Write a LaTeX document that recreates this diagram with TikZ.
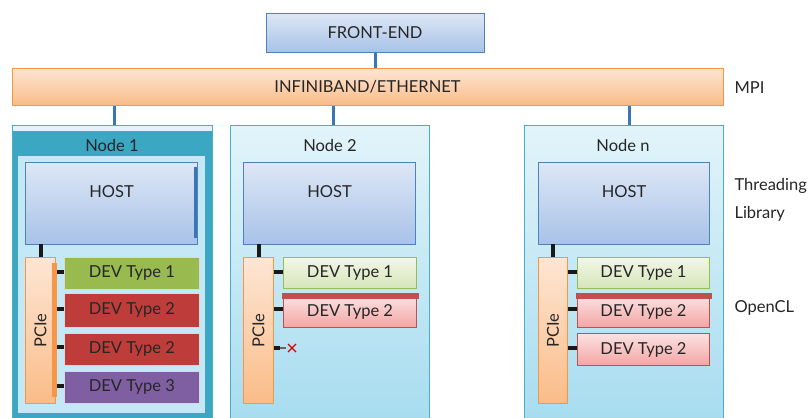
\documentclass[tikz,border=0pt]{standalone}
\usepackage{fontspec}
\usetikzlibrary{calc}
\setmainfont{Lato}
\definecolor{feTop}{HTML}{DDE7F5}
\definecolor{feBot}{HTML}{A8C2E8}
\definecolor{feLine}{HTML}{4F81BD}
\definecolor{orTop}{HTML}{FDE6D4}
\definecolor{orBot}{HTML}{FABC88}
\definecolor{orLine}{HTML}{F79646}
\definecolor{nodeTop}{HTML}{E2F4FA}
\definecolor{nodeBot}{HTML}{A6DCEF}
\definecolor{nodeLine}{HTML}{4BACC6}
\definecolor{teal}{HTML}{3CA7C3}
\definecolor{innerBlue}{HTML}{C4E8F5}
\definecolor{gTop}{HTML}{F1F7E6}
\definecolor{gBot}{HTML}{D6E5BA}
\definecolor{gLine}{HTML}{9BBB59}
\definecolor{rTop}{HTML}{FBE2E2}
\definecolor{rBot}{HTML}{F3A5A4}
\definecolor{rLine}{HTML}{C0504D}
\definecolor{rDark}{HTML}{BE3D3A}
\definecolor{gDark}{HTML}{98BA4E}
\definecolor{pDark}{HTML}{7F5FA2}
\definecolor{linkBlue}{HTML}{3A75B8}
\definecolor{txt}{HTML}{262626}
\tikzset{
  lbl/.style={font=\fontsize{16.5}{18}\selectfont, text=txt},
  bluebox/.style={draw=feLine, line width=1pt, top color=feTop, bottom color=feBot},
  orbox/.style={draw=orLine, line width=1pt, top color=orTop, bottom color=orBot},
  nodebox/.style={draw=nodeLine, line width=1pt, top color=nodeTop, bottom color=nodeBot},
  gbox/.style={draw=gLine, line width=1pt, top color=gTop, bottom color=gBot},
  rbox/.style={draw=rLine, line width=1pt, top color=rTop, bottom color=rBot},
  solidbox/.style={draw=white!85!black, line width=0.6pt, fill=#1},
  blink/.style={draw=linkBlue, line width=3pt},
  klink/.style={draw=black!90, line width=3.5pt},
}
\begin{document}
\begin{tikzpicture}[x=1pt,y=-1pt]
\useasboundingbox (0,0) rectangle (812,418);
\clip (0,0) rectangle (812,418);
\fill[white] (0,0) rectangle (812,418);

% front end and network
\node[bluebox, minimum width=218, minimum height=39, lbl] (fe) at (375,32.5) {FRONT-END};
\node[orbox, minimum width=711, minimum height=37, lbl] (ib) at (367.5,86.5) {INFINIBAND/ETHERNET};
\node[lbl, anchor=west] (mpi) at (731,88) {MPI};

% node frames
\path[fill=teal, draw=nodeLine, line width=1pt] (12,125) rectangle (212,425);
\fill[nodeTop] (12.5,126) rectangle (211.5,131);
\fill[innerBlue] (18,156) rectangle (205,413);
\node[lbl] (n1) at (112,145) {Node 1};
\coordinate (n1top) at (114,125);

\path[nodebox] (230,125) rectangle (429,425);
\node[lbl] (n2) at (330,145) {Node 2};
\coordinate (n2top) at (333,125);

\path[nodebox] (524,125) rectangle (723,425);
\node[lbl] (nn) at (623,145) {Node n};
\coordinate (nntop) at (629,125);

% network links
\draw[blink] (fe.south) -- (fe.south |- ib.north);
\draw[blink] (n1top |- ib.south) -- (n1top);
\draw[blink] (n2top |- ib.south) -- (n2top);
\draw[blink] (nntop |- ib.south) -- (nntop);

% side labels
\node[lbl, anchor=west] (thr) at (731,186) {Threading};
\node[lbl, anchor=west] (lib) at (731,214) {Library};
\node[lbl, anchor=west] (ocl) at (731,308) {OpenCL};

% ---------- Node 1 ----------
\node[bluebox, minimum width=172, minimum height=82, anchor=north west] (h1) at (25,162) {};
\node[lbl] at (h1.center |- 0,192) {HOST};
\fill[linkBlue] (193.5,167) rectangle (197,238);
\node[orbox, minimum width=30, minimum height=146, anchor=north west] (p1) at (25,257) {};
\node[lbl, rotate=90] at (p1.center) {PCIe};
\fill[orLine] (52,263) rectangle (57,397);
\draw[klink] (41,244) -- (41,257);
\node[solidbox=gDark, minimum width=135, minimum height=32, anchor=north west, lbl] (d11) at (64,257) {DEV Type 1};
\node[solidbox=rDark, minimum width=135, minimum height=34, anchor=north west, lbl] (d12) at (64,293) {DEV Type 2};
\node[solidbox=rDark, minimum width=135, minimum height=32, anchor=north west, lbl] (d13) at (64,333) {DEV Type 2};
\node[solidbox=pDark, minimum width=135, minimum height=32, anchor=north west, lbl] (d14) at (64,371) {DEV Type 3};
\draw[klink] (57,272) -- (d11.west |- 0,272);
\draw[klink] (57,309) -- (d12.west |- 0,309);
\draw[klink] (57,347) -- (d13.west |- 0,347);
\draw[klink] (57,386) -- (d14.west |- 0,386);

% ---------- Node 2 ----------
\node[bluebox, minimum width=172, minimum height=82, anchor=north west] (h2) at (243,162) {};
\node[lbl] at (h2.center |- 0,192) {HOST};
\node[orbox, minimum width=30, minimum height=146, anchor=north west] (p2) at (243,257) {};
\node[lbl, rotate=90] at (p2.center) {PCIe};
\draw[klink] (259,244) -- (259,257);
\node[gbox, minimum width=133, minimum height=31, anchor=north west, lbl] (d21) at (283,257) {DEV Type 1};
\node[rbox, minimum width=133, minimum height=32, anchor=north west, lbl] (d22) at (283,295) {DEV Type 2};
\fill[rLine] (282,293) rectangle (419,298.5);
\draw[klink] (p2.east |- 0,272) -- (d21.west |- 0,272);
\draw[klink] (p2.east |- 0,309) -- (d22.west |- 0,309);
\coordinate (x2) at (292,348);
\draw[klink] (p2.east |- 0,348) -- (280,348);
\draw[draw=black!60, line width=1.5pt] (280,348) -- (286,348);
\draw[red!85!black, line width=1.2pt] ($(x2)+(-4,-4)$) -- ($(x2)+(4,4)$) ($(x2)+(-4,4)$) -- ($(x2)+(4,-4)$);

% ---------- Node n ----------
\node[bluebox, minimum width=171, minimum height=82, anchor=north west] (h3) at (538,162) {};
\node[lbl] at (h3.center |- 0,192) {HOST};
\node[orbox, minimum width=29, minimum height=146, anchor=north west] (p3) at (538,257) {};
\node[lbl, rotate=90] at (p3.center) {PCIe};
\draw[klink] (553,244) -- (553,257);
\node[gbox, minimum width=132, minimum height=31, anchor=north west, lbl] (d31) at (577,257) {DEV Type 1};
\node[rbox, minimum width=132, minimum height=32, anchor=north west, lbl] (d32) at (577,295) {DEV Type 2};
\fill[rLine] (576,293) rectangle (712,298.5);
\node[rbox, minimum width=132, minimum height=32, anchor=north west, lbl] (d33) at (577,333) {DEV Type 2};
\draw[klink] (p3.east |- 0,272) -- (d31.west |- 0,272);
\draw[klink] (p3.east |- 0,309) -- (d32.west |- 0,309);
\draw[klink] (p3.east |- 0,348) -- (d33.west |- 0,348);
\end{tikzpicture}
\end{document}
